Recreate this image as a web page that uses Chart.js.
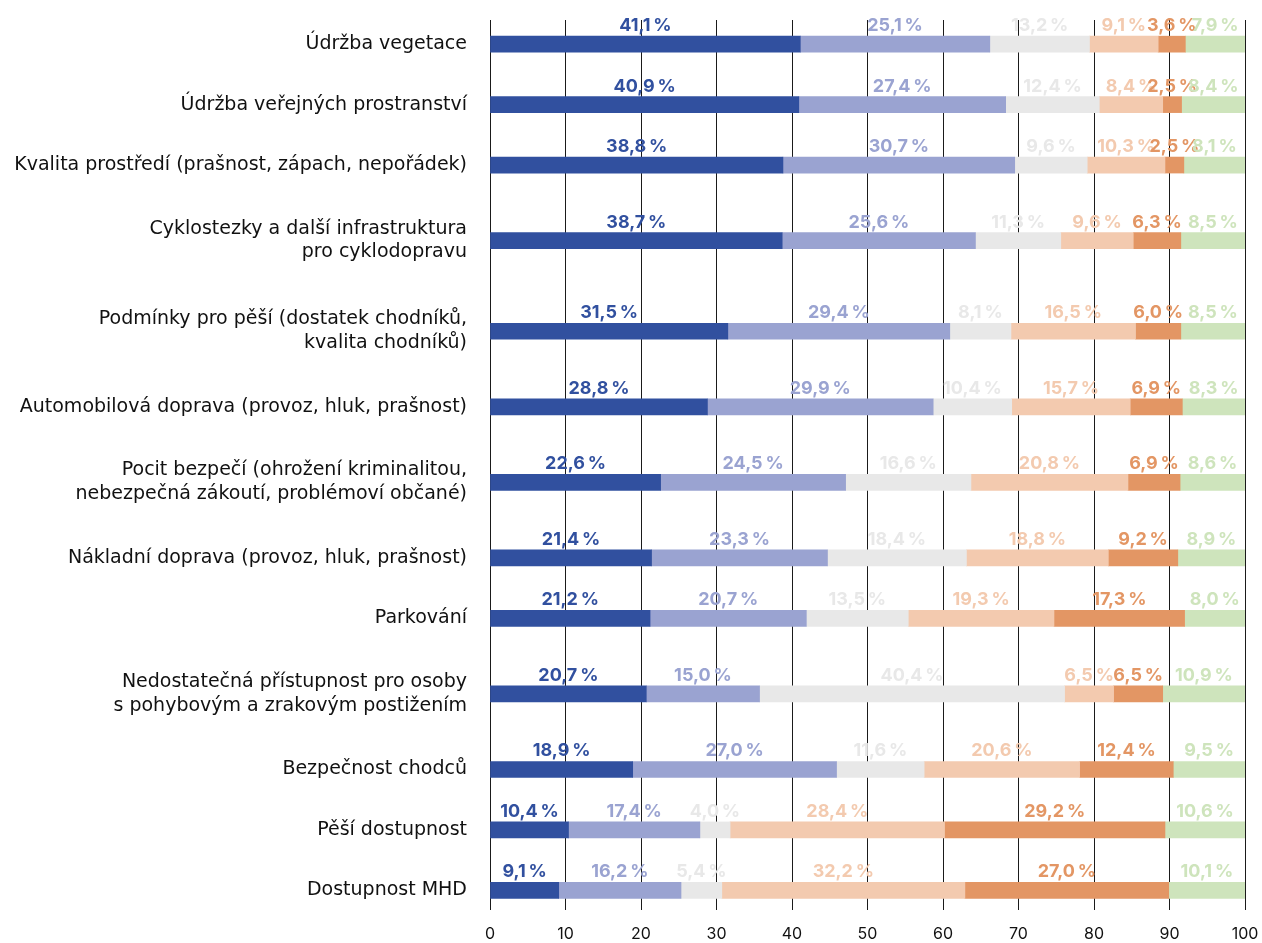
<!DOCTYPE html>
<html>
<head>
<meta charset="utf-8">
<script src="https://cdn.jsdelivr.net/npm/chart.js@4"></script>
<style>
  html, body { margin: 0; padding: 0; background: #fff; }
  #wrap { width: 1262px; height: 943px; position: relative; }
</style>
</head>
<body>
<div id="wrap"><canvas id="c"></canvas></div>
<script>
const categories = [
  ['Údržba vegetace'],
  ['Údržba veřejných prostranství'],
  ['Kvalita prostředí (prašnost, zápach, nepořádek)'],
  ['Cyklostezky a další infrastruktura', 'pro cyklodopravu'],
  ['Podmínky pro pěší (dostatek chodníků,', 'kvalita chodníků)'],
  ['Automobilová doprava (provoz, hluk, prašnost)'],
  ['Pocit bezpečí (ohrožení kriminalitou,', 'nebezpečná zákoutí, problémoví občané)'],
  ['Nákladní doprava (provoz, hluk, prašnost)'],
  ['Parkování'],
  ['Nedostatečná přístupnost pro osoby', 's pohybovým a zrakovým postižením'],
  ['Bezpečnost chodců'],
  ['Pěší dostupnost'],
  ['Dostupnost MHD']
];
const series1 = [41.1, 40.9, 38.8, 38.7, 31.5, 28.8, 22.6, 21.4, 21.2, 20.7, 18.9, 10.4, 9.1];
const series2 = [25.1, 27.4, 30.7, 25.6, 29.4, 29.9, 24.5, 23.3, 20.7, 15.0, 27.0, 17.4, 16.2];
const series3 = [13.2, 12.4, 9.6, 11.3, 8.1, 10.4, 16.6, 18.4, 13.5, 40.4, 11.6, 4.0, 5.4];
const series4 = [9.1, 8.4, 10.3, 9.6, 16.5, 15.7, 20.8, 18.8, 19.3, 6.5, 20.6, 28.4, 32.2];
const series5 = [3.6, 2.5, 2.5, 6.3, 6.0, 6.9, 6.9, 9.2, 17.3, 6.5, 12.4, 29.2, 27.0];
const series6 = [7.9, 8.4, 8.1, 8.5, 8.5, 8.3, 8.6, 8.9, 8.0, 10.9, 9.5, 10.6, 10.1];
const xTicks = [0, 10, 20, 30, 40, 50, 60, 70, 80, 90, 100];

const colors = ['#31509F', '#9AA3D1', '#E8E8E8', '#F3CAAF', '#E39664', '#CEE4BC'];
const allSeries = [series1, series2, series3, series4, series5, series6];

// Row slots: rows with two-line labels are taller
const rowH = categories.map(l => l.length === 1 ? 4 : 6);
const rowPos = [];
categories.forEach((l, i) => {
  rowPos.push(i === 0 ? 0 : rowPos[i - 1] + (rowH[i - 1] + rowH[i]) / 2);
});

const datasets = allSeries.map((s, k) => ({
  label: 'S' + (k + 1),
  data: s.map((v, i) => ({ x: v, y: rowPos[i] })),
  backgroundColor: colors[k],
  borderWidth: 0,
  barThickness: 16
}));

const fmt = v => v.toFixed(1).replace('.', ',') + '\u2009%';

const labelPlugin = {
  id: 'segLabels',
  afterDatasetsDraw(chart) {
    const ctx = chart.ctx;
    ctx.save();
    ctx.font = 'bold 18px Inter, "DejaVu Sans", sans-serif';
    ctx.textAlign = 'center';
    ctx.textBaseline = 'alphabetic';
    chart.data.datasets.forEach((ds, k) => {
      const meta = chart.getDatasetMeta(k);
      meta.data.forEach((el, i) => {
        const v = allSeries[k][i];
        const cx = (el.x + el.base) / 2;
        const cy = el.y - el.height / 2 - 5;
        ctx.fillStyle = colors[k];
        ctx.fillText(fmt(v), cx, cy);
      });
    });
    ctx.restore();
  }
};

new Chart(document.getElementById('c'), {
  type: 'bar',
  data: { datasets },
  options: {
    indexAxis: 'y',
    responsive: true,
    maintainAspectRatio: false,
    animation: false,
    layout: { padding: { top: 20, right: 17, bottom: 0, left: 0 } },
    plugins: { legend: { display: false }, tooltip: { enabled: false } },
    scales: {
      x: {
        type: 'linear',
        stacked: true,
        min: 0,
        max: 100,
        z: 1,
        afterBuildTicks: s => { s.ticks = xTicks.map(v => ({ value: v })); },
        afterFit: s => { s.paddingLeft = 0; s.paddingRight = 0; s.height = 33; },
        grid: { color: '#1a1a1a', lineWidth: 1, drawTicks: false },
        border: { display: false },
        ticks: { color: '#111', font: { family: 'Inter, "DejaVu Sans", sans-serif', size: 16 }, padding: 15, maxRotation: 0 }
      },
      y: {
        type: 'linear',
        stacked: true,
        reverse: true,
        bounds: 'data',
        offset: false,
        min: rowPos[0] - 1.6,
        max: rowPos[rowPos.length - 1] + 1.3,
        afterBuildTicks: s => { s.ticks = rowPos.map(v => ({ value: v })); },
        afterDataLimits: s => { s.min = rowPos[0] - 1.6; s.max = rowPos[rowPos.length - 1] + 1.3; },
        afterFit: s => { s.width = 490; s.paddingTop = 0; s.paddingBottom = 0; },
        grid: { display: false, offset: false },
        border: { display: false },
        ticks: {
          autoSkip: false,
          color: '#111',
          padding: 15,
          font: { family: '"DejaVu Sans", sans-serif', size: 19, lineHeight: 1.25 },
          callback: (v, i) => categories[i]
        }
      }
    }
  },
  plugins: [labelPlugin]
});
</script>
</body>
</html>
